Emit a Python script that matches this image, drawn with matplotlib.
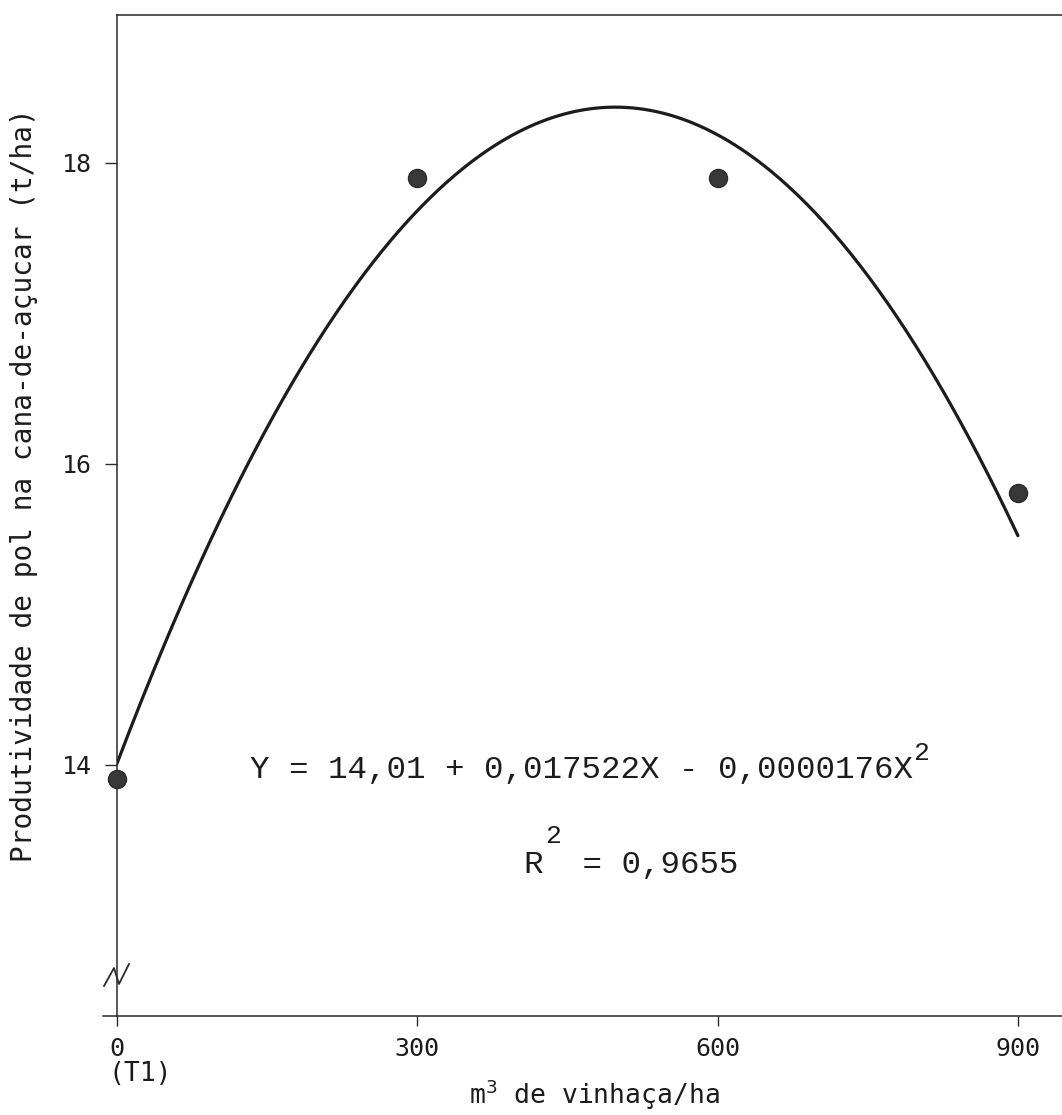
import matplotlib
matplotlib.use('Agg')
import matplotlib.pyplot as plt
import numpy as np

# dados
dose = [0, 300, 600, 900]
produtividade = [13.91, 17.90, 17.90, 15.81]
coef = [14.01, 0.017522, -0.0000176]   # Y = b0 + b1 X + b2 X^2
x_ticks = [0, 300, 600, 900]
x_ticklabels = ['0', '300', '600', '900']
y_ticks = [14, 16, 18]
y_ticklabels = ['14', '16', '18']

W, H = 1062, 1115
fig = plt.figure(figsize=(W / 100, H / 100), dpi=100)
fig.patch.set_facecolor('white')

# eixo: x=0 no pixel 117, 900 no pixel 1018; y=14 no pixel 765, 18 no pixel 163
x_left, x_right = 0, (1075 - 117) / 1.001
y_bot = 14 - (1016 - 765) / 150.5
y_top = 18 + (163 - 15) / 150.5
ax = fig.add_axes([117 / W, 1 - 1016 / H, (1075 - 117) / W, (1016 - 15) / H])
ax.set_xlim(x_left, x_right)
ax.set_ylim(y_bot, y_top)


def px_x(p):
    return (p - 117) / 1.001


def px_y(p):
    return 14 - (p - 765) / 150.5


ink = '#1c1c1c'
for s in ['left', 'bottom', 'top']:
    ax.spines[s].set_color('#2a2a2a')
    ax.spines[s].set_linewidth(1.1)
ax.spines['right'].set_visible(False)

# curva ajustada
xs = np.linspace(0, 900, 300)
ys = coef[0] + coef[1] * xs + coef[2] * xs ** 2
ax.plot(xs, ys, color=ink, lw=2.3, solid_capstyle='round')

# pontos observados
ax.plot(dose, produtividade, 'o', ms=13, color='#383838', mec='#2a2a2a',
        clip_on=False, zorder=5)

lettering = 'DejaVu Sans Mono'
ax.set_xticks(x_ticks)
ax.set_xticklabels(x_ticklabels, family=lettering, fontsize=18, color=ink)
ax.set_yticks(y_ticks)
ax.set_yticklabels(y_ticklabels, family=lettering, fontsize=18, color=ink)
ax.tick_params(axis='x', direction='out', length=7, width=1, pad=8, colors='#2a2a2a')
ax.tick_params(axis='y', direction='out', length=9, width=1, pad=9, colors='#2a2a2a')
for lab in ax.get_xticklabels() + ax.get_yticklabels():
    lab.set_color(ink)

# prolongamento do eixo x à esquerda e quebra no eixo y
ax.plot([px_x(103), 0], [y_bot, y_bot], color='#2a2a2a', lw=1.1, clip_on=False)
zz_x = [px_x(104), px_x(114), px_x(119), px_x(129)]
zz_y = [px_y(986), px_y(968), px_y(984), px_y(964)]
ax.plot(zz_x, zz_y, color='#2a2a2a', lw=1.3, clip_on=False)

# (T1) sob o zero
ax.text(px_x(109), px_y(1074), '(T1)', family=lettering, fontsize=19,
        color=ink, ha='left', va='center', clip_on=False)

# equação e R2
mono = 'Liberation Mono'
ax.text(px_x(250), px_y(778), 'Y = 14,01 + 0,017522X - 0,0000176X',
        family=mono, fontsize=23.4, color=ink, ha='left', va='baseline')
ax.text(px_x(913), px_y(760), '2', family=mono, fontsize=19,
        color=ink, ha='left', va='baseline')
ax.text(px_x(524), px_y(873), 'R  = 0,9655',
        family=mono, fontsize=23.4, color=ink, ha='left', va='baseline')
ax.text(px_x(545), px_y(843), '2', family=mono, fontsize=19,
        color=ink, ha='left', va='baseline')

# rótulos dos eixos
fig.text(594 / W, 1 - 1095 / H, 'm$^3$ de vinhaça/ha', family=lettering,
         fontsize=19, color=ink, ha='center', va='center')
fig.text(24 / W, 1 - 485 / H, 'Produtividade de pol na cana-de-açucar (t/ha)',
         family=lettering, fontsize=20, color=ink, rotation=90,
         ha='center', va='center')

fig.savefig('out.png', dpi=100, facecolor='white')
